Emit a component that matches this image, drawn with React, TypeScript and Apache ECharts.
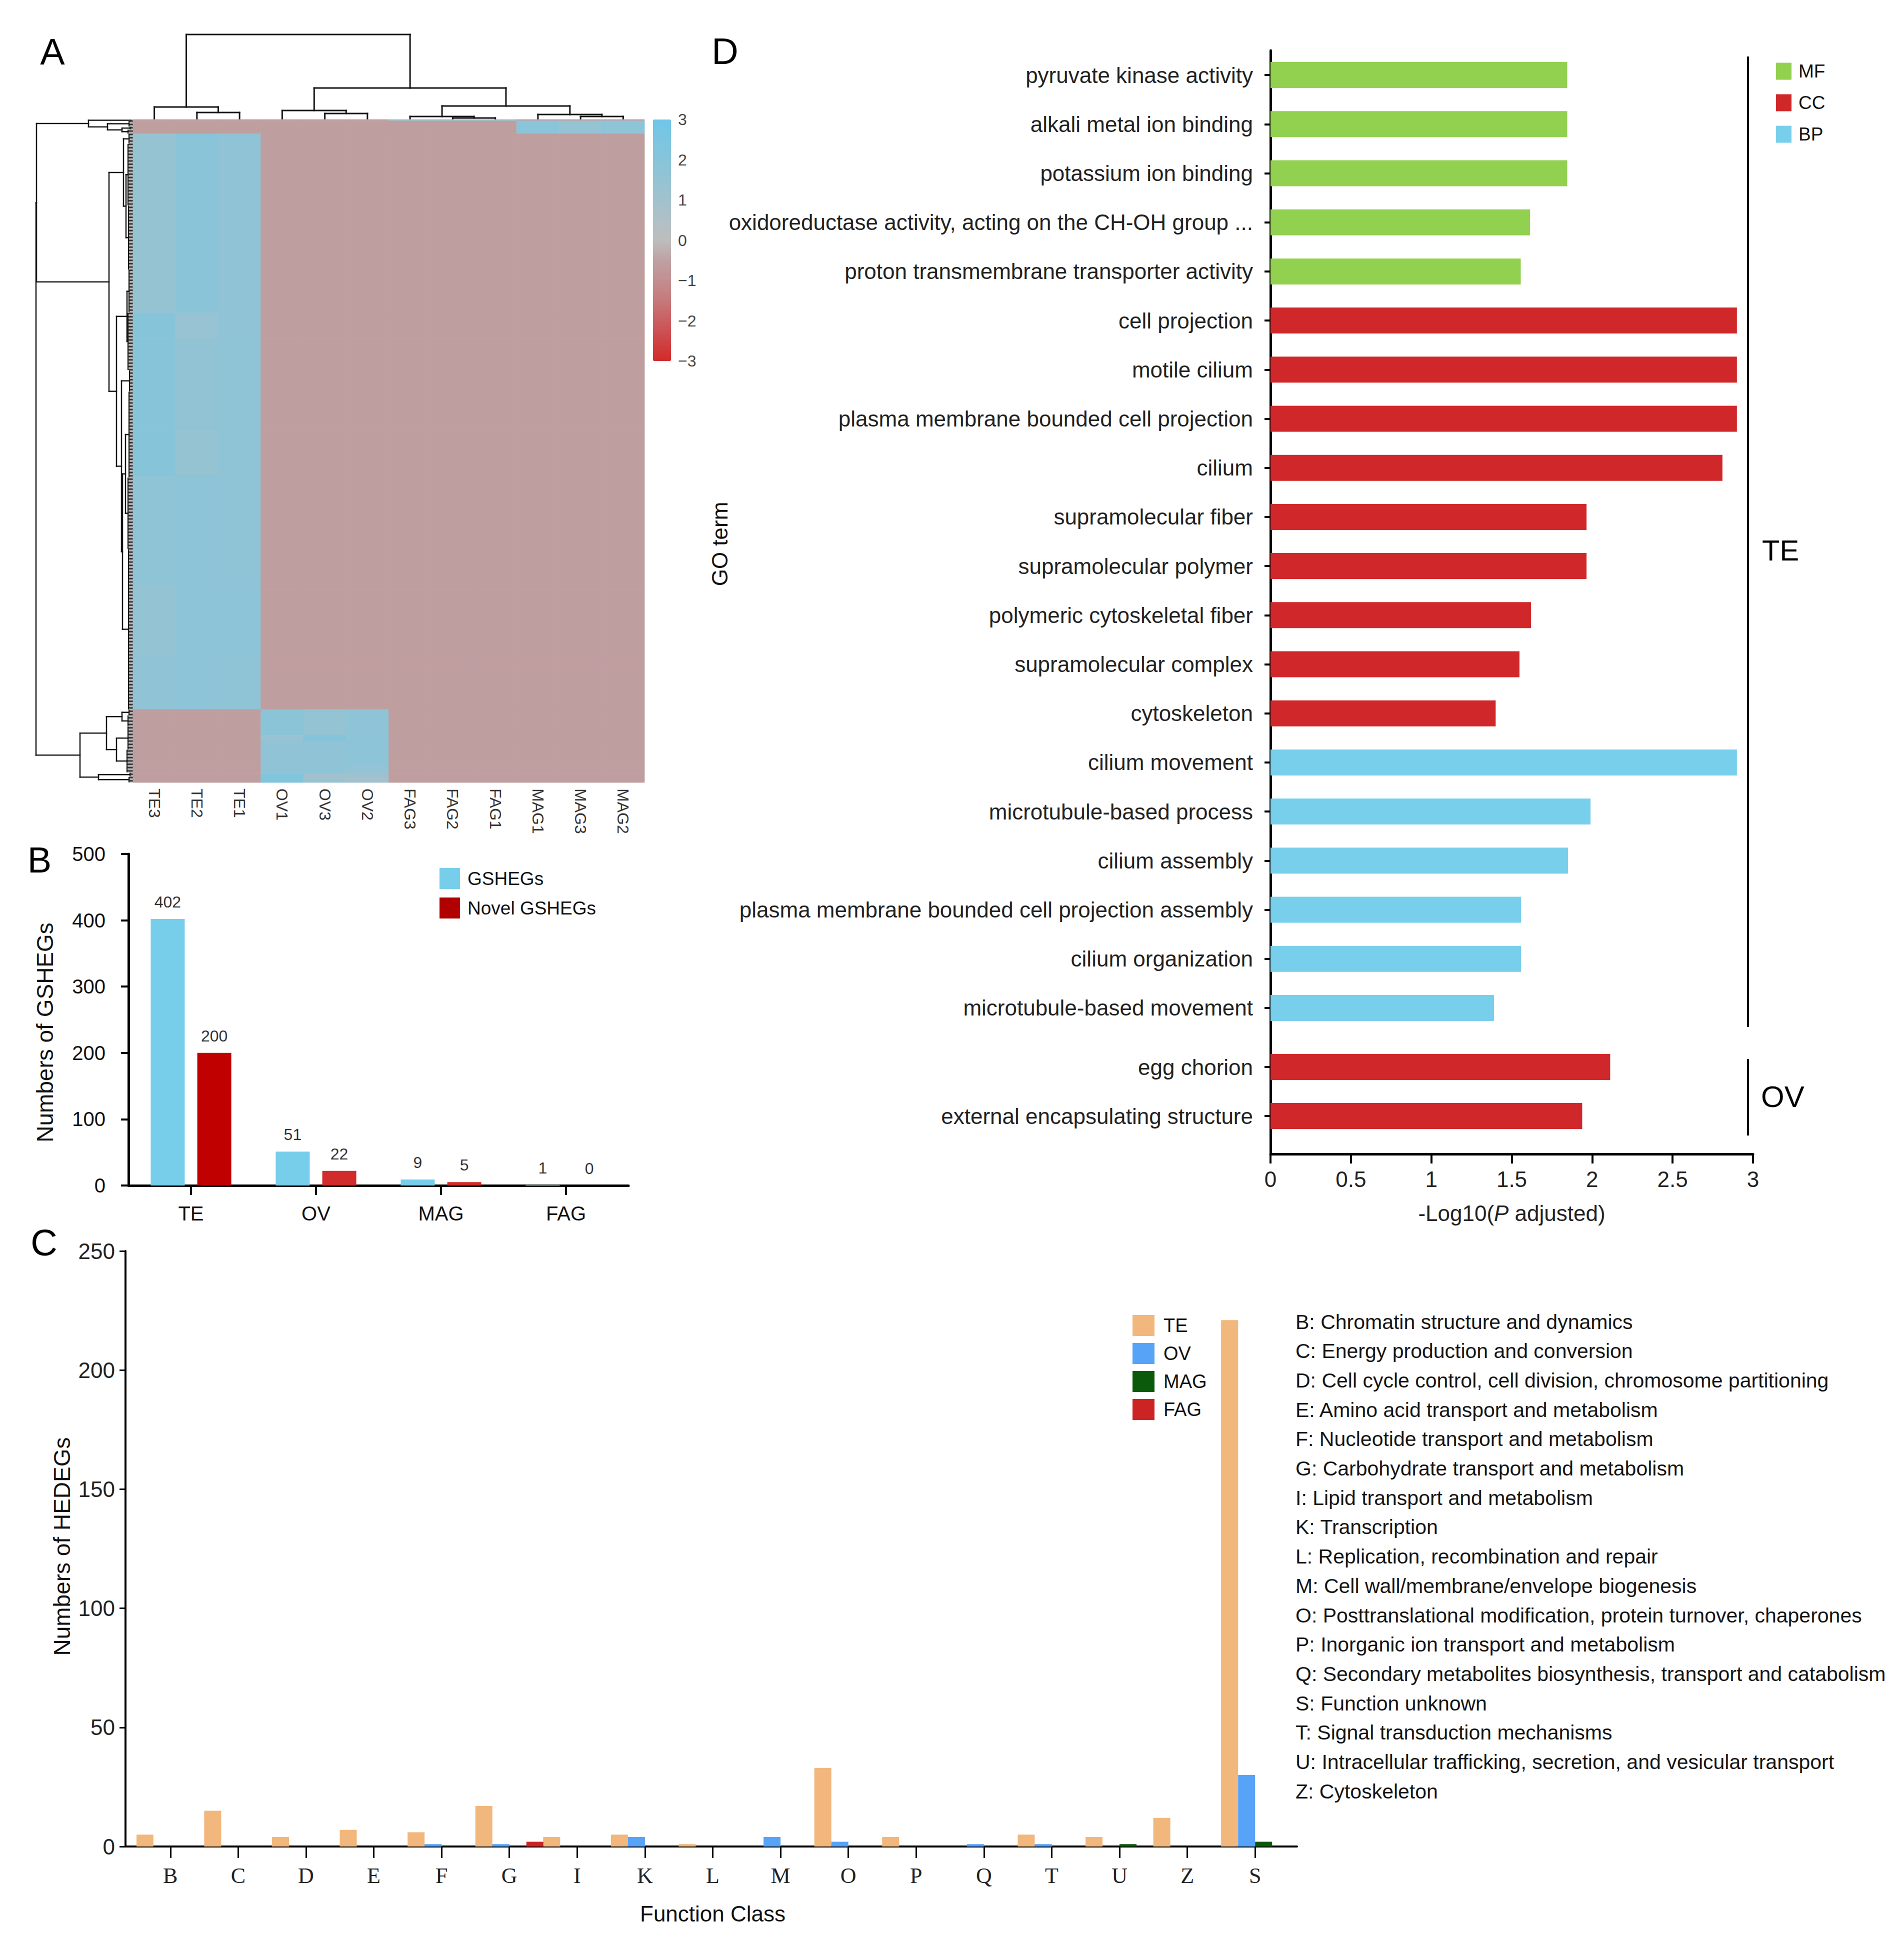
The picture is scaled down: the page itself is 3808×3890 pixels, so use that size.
import React, { useEffect, useRef } from 'react';
import * as echarts from 'echarts';

const FONT = "'Liberation Sans', Arial, Helvetica, sans-serif";
const SERIF = "'Liberation Serif', 'Times New Roman', serif";

// ---------- Panel A : heatmap ----------
const heatColumns = ['TE3', 'TE2', 'TE1', 'OV1', 'OV3', 'OV2', 'FAG3', 'FAG2', 'FAG1', 'MAG1', 'MAG3', 'MAG2'];
const heatRowCount = 463;
const L = -0.58;
// [rowStart, rowEnd, ...12 column z-scores]
const heatSegments: number[][] = [
  [0, 1, L, L, L, L, L, L, 1.5, 1.6, 1.6, L, L, L],
  [1, 10, L, L, L, L, L, L, L, L, L, 1.9, 1.5, 1.8],
  [10, 135, 1.45, 1.95, 1.7, L, L, L, L, L, L, L, L, L],
  [135, 153, 2.1, 1.4, 1.7, L, L, L, L, L, L, L, L, L],
  [153, 218, 2.05, 1.6, 1.75, L, L, L, L, L, L, L, L, L],
  [218, 249, 2.1, 1.45, 1.75, L, L, L, L, L, L, L, L, L],
  [249, 325, 1.75, 1.8, 1.75, L, L, L, L, L, L, L, L, L],
  [325, 375, 1.5, 1.8, 1.8, L, L, L, L, L, L, L, L, L],
  [375, 412, 1.7, 1.8, 1.75, L, L, L, L, L, L, L, L, L],
  [412, 426, L, L, L, 1.85, 1.5, 1.75, L, L, L, L, L, L],
  [426, 430, L, L, L, 1.85, 1.5, 1.8, L, L, L, L, L, L],
  [430, 434, L, L, L, 1.4, 2.2, 1.8, L, L, L, L, L, L],
  [434, 451, L, L, L, 1.65, 1.7, 1.8, L, L, L, L, L, L],
  [451, 457, L, L, L, 1.65, 1.75, 1.55, L, L, L, L, L, L],
  [457, 460, L, L, L, 2.3, 1.0, 1.1, L, L, L, L, L, L],
  [460, 463, L, L, L, 2.3, 1.3, 1.0, L, L, L, L, L, L],
];
const heatColors = ['#D22A2A', '#CE4446', '#CA5E60', '#C6787A', '#C28E90', '#BFA1A3', '#BDBDBD',
  '#B0C0C6', '#A2C1CD', '#94C3D3', '#88C4D9', '#7CC5E0', '#6EC6E8'];

// column dendrogram: leaves {c}, nodes {h,l,r}
const colTree: any = {
  h: 170,
  l: { h: 25, l: { c: 0 }, r: { h: 14, l: { c: 1 }, r: { c: 2 } } },
  r: {
    h: 63,
    l: { h: 18, l: { c: 3 }, r: { h: 12, l: { c: 4 }, r: { c: 5 } } },
    r: {
      h: 27,
      l: { h: 6, l: { c: 6 }, r: { h: 3, l: { c: 7 }, r: { c: 8 } } },
      r: { h: 10, l: { c: 9 }, r: { h: 6, l: { c: 10 }, r: { c: 11 } } },
    },
  },
};
// row dendrogram: leaf groups {a,b,h} (rows a..b-1), nodes {h,l,r}
const rowTree: any = {
  h: 194,
  l: {
    h: 193,
    l: { h: 89, l: { a: 0, b: 1, h: 4 }, r: { h: 51, l: { a: 1, b: 5, h: 8 }, r: { h: 22, l: { a: 5, b: 7, h: 6 }, r: { a: 7, b: 10, h: 10 } } } },
    r: {
      h: 48,
      l: { h: 19, l: { a: 10, b: 17, h: 8 }, r: { h: 14, l: { a: 17, b: 60, h: 10 }, r: { a: 60, b: 105, h: 9 } } },
      r: {
        h: 33,
        l: { h: 12, l: { a: 105, b: 135, h: 8 }, r: { a: 135, b: 175, h: 10 } },
        r: { h: 23, l: { a: 175, b: 190, h: 7 }, r: { h: 21, l: { h: 15, l: { a: 190, b: 250, h: 8 }, r: { a: 250, b: 300, h: 10 } }, r: { a: 300, b: 412, h: 9 } } },
      },
    },
  },
  r: {
    h: 106,
    l: { h: 53, l: { h: 22, l: { a: 412, b: 416, h: 8 }, r: { a: 416, b: 424, h: 10 } }, r: { h: 33, l: { a: 424, b: 440, h: 10 }, r: { a: 440, b: 456, h: 12 } } },
    r: { h: 69, l: { a: 456, b: 459, h: 6 }, r: { a: 459, b: 463, h: 8 } },
  },
};

// ---------- Panel B ----------
const bCategories = ['TE', 'OV', 'MAG', 'FAG'];
const bGSHEGs = [402, 51, 9, 1];
const bNovel = [200, 22, 5, 0];
const bNovelColors = ['#C00000', '#D22B2B', '#D22B2B', '#D22B2B'];

// ---------- Panel C ----------
const cClasses = ['B', 'C', 'D', 'E', 'F', 'G', 'I', 'K', 'L', 'M', 'O', 'P', 'Q', 'T', 'U', 'Z', 'S'];
const cTE = [5, 15, 4, 7, 6, 17, 4, 5, 1, 0, 33, 4, 0, 5, 4, 12, 221];
const cOV = [0, 0, 0, 0, 1, 1, 0, 4, 0, 4, 2, 0, 1, 1, 0, 0, 30];
const cMAG = [0, 0, 0, 0, 0, 0, 0, 0, 0, 0, 0, 0, 0, 0, 1, 0, 2];
const cFAG = [0, 0, 0, 0, 0, 2, 0, 0, 0, 0, 0, 0, 0, 0, 0, 0, 0];
const cDescriptions = [
  'B: Chromatin structure and dynamics',
  'C: Energy production and conversion',
  'D: Cell cycle control, cell division, chromosome partitioning',
  'E: Amino acid transport and metabolism',
  'F: Nucleotide transport and metabolism',
  'G: Carbohydrate transport and metabolism',
  'I: Lipid transport and metabolism',
  'K: Transcription',
  'L: Replication, recombination and repair',
  'M: Cell wall/membrane/envelope biogenesis',
  'O: Posttranslational modification, protein turnover, chaperones',
  'P: Inorganic ion transport and metabolism',
  'Q: Secondary metabolites biosynthesis, transport and catabolism',
  'S: Function unknown',
  'T: Signal transduction mechanisms',
  'U: Intracellular trafficking, secretion, and vesicular transport',
  'Z: Cytoskeleton',
];

// ---------- Panel D ----------
const goTermsTE = [
  'pyruvate kinase activity', 'alkali metal ion binding', 'potassium ion binding',
  'oxidoreductase activity, acting on the CH-OH group ...', 'proton transmembrane transporter activity',
  'cell projection', 'motile cilium', 'plasma membrane bounded cell projection', 'cilium',
  'supramolecular fiber', 'supramolecular polymer', 'polymeric cytoskeletal fiber',
  'supramolecular complex', 'cytoskeleton', 'cilium movement', 'microtubule-based process',
  'cilium assembly', 'plasma membrane bounded cell projection assembly', 'cilium organization',
  'microtubule-based movement',
];
const goValuesTE = [1.845, 1.845, 1.845, 1.614, 1.556, 2.9, 2.9, 2.9, 2.81, 1.965, 1.965, 1.62, 1.548, 1.4, 2.9, 1.99, 1.85, 1.558, 1.558, 1.39];
const goClassTE = ['MF', 'MF', 'MF', 'MF', 'MF', 'CC', 'CC', 'CC', 'CC', 'CC', 'CC', 'CC', 'CC', 'CC', 'BP', 'BP', 'BP', 'BP', 'BP', 'BP'];
const goTermsOV = ['egg chorion', 'external encapsulating structure'];
const goValuesOV = [2.112, 1.938];
const goClasses = ['MF', 'CC', 'BP'];
const goColors: Record<string, string> = { MF: '#92D050', CC: '#D0282A', BP: '#78CFEC' };

// ---------- helpers ----------
function layoutTree(node: any, segs: number[][]): { pos: number; h: number } {
  if (node.c !== undefined) return { pos: node.c + 0.5, h: 0 };
  if (node.a !== undefined) {
    for (let i = node.a; i < node.b; i++) segs.push([i + 0.5, 0, i + 0.5, node.h, 1.6]);
    if (node.b - node.a > 1) segs.push([node.a + 0.5, node.h, node.b - 0.5, node.h, 2.2]);
    return { pos: (node.a + node.b) / 2, h: node.h };
  }
  const a = layoutTree(node.l, segs);
  const b = layoutTree(node.r, segs);
  segs.push([a.pos, a.h, a.pos, node.h, 0]);
  segs.push([b.pos, b.h, b.pos, node.h, 0]);
  segs.push([a.pos, node.h, b.pos, node.h, 0]);
  return { pos: (a.pos + b.pos) / 2, h: node.h };
}

function buildOption() {
  const topSegs: number[][] = [];
  layoutTree(colTree, topSegs);
  const leftRaw: number[][] = [];
  layoutTree(rowTree, leftRaw);
  const leftSegs = leftRaw.map((s) => [s[1], s[0], s[3], s[2], s[4]]);

  const heatData: number[][] = [];
  heatSegments.forEach((s) => {
    for (let c = 0; c < 12; c++) heatData.push([c, s[0], s[1], s[2 + c]]);
  });

  const lineRender = (width: number) => (params: any, api: any) => {
    const p = api.coord([api.value(0), api.value(1)]);
    const q = api.coord([api.value(2), api.value(3)]);
    const w = api.value(4) || width;
    return {
      type: 'line',
      shape: { x1: p[0], y1: p[1], x2: q[0], y2: q[1] },
      style: { stroke: '#141414', lineWidth: w, lineCap: 'square' },
    };
  };

  const axisBlack = (w: number) => ({ show: true, lineStyle: { color: '#000', width: w } });
  const g = (left: number, top: number, width: number, height: number) => ({ left, top, width, height, containLabel: false, outerBoundsMode: 'none' });

  const graphics: any[] = [];
  const txt = (text: string, x: number, y: number, size: number, opts: any = {}) => ({
    type: 'text', x, y, rotation: opts.rotation || 0, silent: true,
    style: {
      text, fill: opts.color || '#111', font: `${size}px ${FONT}`, fontSize: size, fontFamily: FONT,
      textAlign: opts.align || 'center', textVerticalAlign: 'middle', align: opts.align || 'center', verticalAlign: 'middle',
    },
  });
  graphics.push(txt('A', 105, 103, 74, { color: '#000' }));
  graphics.push(txt('B', 79, 1720, 72, { color: '#000' }));
  graphics.push(txt('C', 88, 2485, 74, { color: '#000' }));
  graphics.push(txt('D', 1450, 102, 74, { color: '#000' }));
  graphics.push(txt('Numbers of GSHEGs', 90, 2065, 46, { rotation: Math.PI / 2 }));
  graphics.push(txt('Numbers of HEDEGs', 124, 3093, 46, { rotation: Math.PI / 2 }));
  graphics.push(txt('GO term', 1439, 1088, 44, { rotation: Math.PI / 2 }));
  graphics.push({ type: 'line', silent: true, shape: { x1: 3496, y1: 113, x2: 3496, y2: 2054 }, style: { stroke: '#000', lineWidth: 4 } });
  graphics.push({ type: 'line', silent: true, shape: { x1: 3496, y1: 2118, x2: 3496, y2: 2271 }, style: { stroke: '#000', lineWidth: 4 } });
  graphics.push(txt('TE', 3524, 1100, 58, { align: 'left', color: '#000' }));
  graphics.push(txt('OV', 3522, 2193, 60, { align: 'left', color: '#000' }));
  cDescriptions.forEach((d, i) => graphics.push(txt(d, 2591, 2643.5 + i * 58.7, 41, { align: 'left', color: '#151515' })));

  const goSeries = goClasses.map((cls) => ({
    name: cls, type: 'bar', xAxisIndex: 8, yAxisIndex: 8, barWidth: 52, barGap: '-100%',
    itemStyle: { color: goColors[cls] },
    data: goValuesTE.map((v, i) => (goClassTE[i] === cls ? v : null)),
  }));

  const cSeries = [
    { name: 'TE', data: cTE, color: '#F2B77C' },
    { name: 'OV', data: cOV, color: '#56A3F8' },
    { name: 'MAG', data: cMAG, color: '#0B5A0B' },
    { name: 'FAG', data: cFAG, color: '#CC2424' },
  ].map((s) => ({
    name: s.name, type: 'bar', xAxisIndex: 6, yAxisIndex: 6, barWidth: 34, barGap: '0%',
    itemStyle: { color: s.color }, data: s.data,
  }));

  return {
    animation: false,
    backgroundColor: '#fff',
    textStyle: { fontFamily: FONT },
    grid: [
      g(266, 69, 1023, 170), // 0 top dendrogram
      g(72, 239, 194, 1326), // 1 left dendrogram
      g(266, 239, 1023, 1326), // 2 heatmap
      g(1306, 239, 36, 483), // 3 colorbar axis
      g(257, 1708, 1000, 663), // 4 B
      g(251, 2502, 2343, 1191), // 5 C frame
      g(273, 2502, 2305, 1191), // 6 C bars
      g(2541, 101, 965, 2207), // 7 D frame
      g(2541, 101, 965, 1964), // 8 D TE
      g(2541, 2085, 965, 196), // 9 D OV
    ],
    xAxis: [
      { gridIndex: 0, type: 'value', min: 0, max: 12, show: false },
      { gridIndex: 1, type: 'value', min: 0, max: 194, inverse: true, show: false },
      {
        gridIndex: 2, type: 'category', data: heatColumns, axisLine: { show: false }, axisTick: { show: false },
        axisLabel: { rotate: -90, margin: 12, fontSize: 32, color: '#333', interval: 0 },
      },
      { gridIndex: 3, type: 'value', show: false },
      {
        gridIndex: 4, type: 'category', data: bCategories, axisLine: axisBlack(5),
        axisTick: { show: true, alignWithLabel: true, length: 19, lineStyle: { color: '#000', width: 4 } },
        axisLabel: { fontSize: 40, color: '#111', margin: 36 },
      },
      {
        gridIndex: 5, type: 'value', min: 0, max: 1, axisLine: axisBlack(4), axisTick: { show: false },
        axisLabel: { show: false }, splitLine: { show: false },
      },
      {
        gridIndex: 6, type: 'category', data: cClasses, axisLine: { show: false },
        axisTick: { show: true, alignWithLabel: true, length: 23, lineStyle: { color: '#000', width: 3 } },
        axisLabel: { fontFamily: SERIF, fontSize: 44, color: '#222', margin: 36, interval: 0 },
        name: 'Function Class', nameLocation: 'middle', nameGap: 112, nameTextStyle: { fontSize: 44, color: '#111' },
      },
      {
        gridIndex: 7, type: 'value', min: 0, max: 3, interval: 0.5, axisLine: axisBlack(5),
        axisTick: { show: true, length: 19, lineStyle: { color: '#000', width: 4 } },
        axisLabel: { fontSize: 44, color: '#222', margin: 28 }, splitLine: { show: false },
        name: '{a|-Log10(}{b|P}{a| adjusted)}', nameLocation: 'middle', nameGap: 96,
        nameTextStyle: { rich: { a: { fontSize: 44, color: '#222' }, b: { fontSize: 44, color: '#222', fontStyle: 'italic' } } },
      },
      { gridIndex: 8, type: 'value', min: 0, max: 3, show: false },
      { gridIndex: 9, type: 'value', min: 0, max: 3, show: false },
    ],
    yAxis: [
      { gridIndex: 0, type: 'value', min: 0, max: 170, show: false },
      { gridIndex: 1, type: 'value', min: 0, max: heatRowCount, inverse: true, show: false },
      { gridIndex: 2, type: 'value', min: 0, max: heatRowCount, inverse: true, show: false },
      {
        gridIndex: 3, type: 'value', min: -3, max: 3, interval: 1, position: 'right',
        axisLine: { show: false }, axisTick: { show: false }, splitLine: { show: false },
        axisLabel: { margin: 14, fontSize: 32, color: '#444', formatter: (v: number) => (v < 0 ? '\u2212' + Math.abs(v) : String(v)) },
      },
      {
        gridIndex: 4, type: 'value', min: 0, max: 500, interval: 100, axisLine: axisBlack(5),
        axisTick: { show: true, length: 15, lineStyle: { color: '#000', width: 4 } },
        axisLabel: { fontSize: 40, color: '#111', margin: 46 }, splitLine: { show: false },
      },
      {
        gridIndex: 5, type: 'value', min: 0, max: 250, interval: 50, axisLine: axisBlack(4),
        axisTick: { show: true, length: 12, lineStyle: { color: '#000', width: 3 } },
        axisLabel: { fontSize: 44, color: '#222', margin: 21 }, splitLine: { show: false },
      },
      { gridIndex: 6, type: 'value', min: 0, max: 250, show: false },
      {
        gridIndex: 7, type: 'value', min: 0, max: 1, axisLine: axisBlack(5), axisTick: { show: false },
        axisLabel: { show: false }, splitLine: { show: false },
      },
      {
        gridIndex: 8, type: 'category', data: goTermsTE, inverse: true, axisLine: { show: false },
        axisTick: { show: true, alignWithLabel: true, length: 12, lineStyle: { color: '#000', width: 4 } },
        axisLabel: { fontSize: 44, color: '#222', margin: 35, interval: 0 },
      },
      {
        gridIndex: 9, type: 'category', data: goTermsOV, inverse: true, axisLine: { show: false },
        axisTick: { show: true, alignWithLabel: true, length: 12, lineStyle: { color: '#000', width: 4 } },
        axisLabel: { fontSize: 44, color: '#222', margin: 35, interval: 0 },
      },
    ],
    visualMap: [{
      type: 'continuous', seriesIndex: 2, dimension: 3, min: -3, max: 3, calculable: false, hoverLink: false,
      left: 1306, top: 239, itemWidth: 36, itemHeight: 483, padding: 0, inRange: { color: heatColors },
    }],
    legend: [
      {
        data: ['GSHEGs', 'Novel GSHEGs'], orient: 'vertical', left: 879, top: 1736, itemWidth: 41, itemHeight: 42,
        itemGap: 17, icon: 'rect', padding: 0, selectedMode: false,
        textStyle: { fontSize: 37, color: '#111', padding: [0, 0, 0, 10] },
      },
      {
        data: ['TE', 'OV', 'MAG', 'FAG'], orient: 'vertical', left: 2265, top: 2630, itemWidth: 44, itemHeight: 42,
        itemGap: 14, icon: 'rect', padding: 0, selectedMode: false,
        textStyle: { fontSize: 38, color: '#111', padding: [0, 0, 0, 13] },
      },
      {
        data: ['MF', 'CC', 'BP'], orient: 'vertical', left: 3552, top: 124, itemWidth: 31, itemHeight: 34,
        itemGap: 26, icon: 'rect', padding: 0, selectedMode: false,
        textStyle: { fontSize: 37, color: '#111', padding: [0, 0, 0, 9] },
      },
    ],
    graphic: { elements: graphics },
    series: [
      { type: 'custom', xAxisIndex: 0, yAxisIndex: 0, renderItem: lineRender(3), data: topSegs, silent: true, clip: false },
      { type: 'custom', xAxisIndex: 1, yAxisIndex: 1, renderItem: lineRender(2.5), data: leftSegs, silent: true, clip: false },
      {
        type: 'custom', xAxisIndex: 2, yAxisIndex: 2, data: heatData, silent: true,
        encode: { x: 0, y: [1, 2] },
        renderItem: (params: any, api: any) => {
          const col = api.value(0);
          const p = api.coord([col, api.value(1)]);
          const q = api.coord([col, api.value(2)]);
          const w = api.size([1, 0])[0];
          const color = api.visual('color');
          return {
            type: 'rect', shape: { x: p[0] - w / 2, y: p[1], width: w, height: q[1] - p[1] },
            style: { fill: color, stroke: color, lineWidth: 0.8 },
          };
        },
      },
      {
        name: 'GSHEGs', type: 'bar', xAxisIndex: 4, yAxisIndex: 4, barWidth: 68, barGap: '37%',
        itemStyle: { color: '#77CEEB' }, data: bGSHEGs,
        label: { show: true, position: 'top', distance: 18, fontSize: 32, color: '#333' },
      },
      {
        name: 'Novel GSHEGs', type: 'bar', xAxisIndex: 4, yAxisIndex: 4, barWidth: 68, barGap: '37%',
        itemStyle: { color: '#B00000' },
        data: bNovel.map((v, i) => ({ value: v, itemStyle: { color: bNovelColors[i] } })),
        label: { show: true, position: 'top', distance: 18, fontSize: 32, color: '#333' },
      },
      ...cSeries,
      ...goSeries,
      {
        name: 'CC', type: 'bar', xAxisIndex: 9, yAxisIndex: 9, barWidth: 52,
        itemStyle: { color: goColors.CC }, data: goValuesOV,
      },
    ],
  };
}

export default function App() {
  const ref = useRef<HTMLDivElement>(null);
  useEffect(() => {
    if (!ref.current) return;
    const chart = echarts.init(ref.current, null, { renderer: 'svg', width: 3808, height: 3890 });
    chart.setOption(buildOption() as any);
    return () => chart.dispose();
  }, []);
  return (
    <div
      ref={ref}
      style={{ position: 'absolute', left: 0, top: 0, width: 3808, height: 3890, background: '#fff' }}
    />
  );
}
